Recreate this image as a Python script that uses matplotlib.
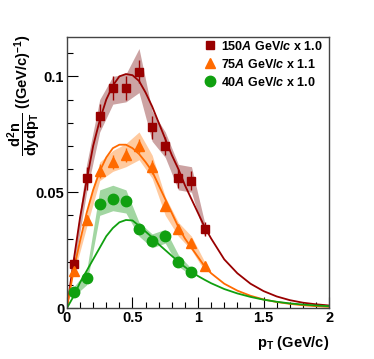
import numpy as np
import matplotlib
matplotlib.use("Agg")
import matplotlib.pyplot as plt
from matplotlib.ticker import MultipleLocator
from matplotlib.lines import Line2D

plt.rcParams['font.family'] = ['Liberation Sans', 'DejaVu Sans']
plt.rcParams['font.weight'] = 'bold'
plt.rcParams['mathtext.fontset'] = 'custom'
plt.rcParams['mathtext.rm'] = 'Liberation Sans:bold'
plt.rcParams['mathtext.it'] = 'Liberation Sans:bold:italic'
plt.rcParams['mathtext.bf'] = 'Liberation Sans:bold'

# measured points (pT bin centres)
pt = [0.05, 0.15, 0.25, 0.35, 0.45, 0.55, 0.65, 0.75, 0.85, 0.95, 1.05]

y150 = [0.019, 0.056, 0.083, 0.095, 0.095, 0.102, 0.078, 0.070, 0.056, 0.055, 0.034]
lo150 = [0.016, 0.050, 0.076, 0.088, 0.089, 0.093, 0.072, 0.065, 0.051, 0.050, 0.031]
hi150 = [0.022, 0.062, 0.090, 0.100, 0.101, 0.112, 0.085, 0.076, 0.062, 0.061, 0.037]
e150 = [0.003, 0.005, 0.005, 0.005, 0.005, 0.005, 0.005, 0.004, 0.004, 0.004, 0.003]

y75 = [0.016, 0.038, 0.059, 0.063, 0.066, 0.070, 0.061, 0.044, 0.034, 0.028, 0.018]
lo75 = [0.014, 0.035, 0.055, 0.059, 0.061, 0.064, 0.056, 0.040, 0.031, 0.025, 0.016]
hi75 = [0.018, 0.041, 0.063, 0.068, 0.071, 0.076, 0.066, 0.048, 0.037, 0.031, 0.020]
e75 = [0.002, 0.002, 0.003, 0.003, 0.003, 0.003, 0.003, 0.002, 0.002, 0.002, 0.002]

pt40 = [0.05, 0.15, 0.25, 0.35, 0.45, 0.55, 0.65, 0.75, 0.85, 0.95]
y40 = [0.007, 0.013, 0.045, 0.047, 0.046, 0.034, 0.029, 0.031, 0.020, 0.0155]
lo40 = [0.005, 0.010, 0.040, 0.042, 0.041, 0.031, 0.026, 0.028, 0.018, 0.014]
hi40 = [0.009, 0.016, 0.051, 0.053, 0.051, 0.037, 0.032, 0.034, 0.023, 0.017]
e40 = [0.002, 0.002, 0.002, 0.002, 0.002, 0.002, 0.002, 0.002, 0.002, 0.002]

# fit curves
fx = [0, 0.05, 0.1, 0.15, 0.2, 0.25, 0.3, 0.35, 0.4, 0.45, 0.5, 0.55, 0.6, 0.65,
      0.7, 0.75, 0.8, 0.85, 0.9, 0.95, 1.0, 1.05, 1.1, 1.2, 1.3, 1.4, 1.5, 1.6,
      1.7, 1.8, 1.9, 2.0]
f150 = [0, 0.020, 0.039, 0.055, 0.070, 0.081, 0.090, 0.096, 0.100, 0.101, 0.1005,
        0.098, 0.093, 0.087, 0.080, 0.073, 0.066, 0.060, 0.053, 0.047, 0.041, 0.035,
        0.030, 0.021, 0.015, 0.0105, 0.0073, 0.005, 0.0034, 0.0023, 0.0016, 0.0011]
f75 = [0, 0.016, 0.029, 0.041, 0.051, 0.059, 0.065, 0.069, 0.0705, 0.0705, 0.069,
       0.0665, 0.063, 0.059, 0.053, 0.047, 0.041, 0.035, 0.030, 0.026, 0.022, 0.018,
       0.015, 0.0105, 0.0075, 0.0053, 0.0037, 0.0026, 0.0018, 0.0012, 0.0008, 0.0005]
f40 = [0, 0.005, 0.011, 0.016, 0.021, 0.026, 0.031, 0.0345, 0.037, 0.038, 0.0378,
       0.0355, 0.033, 0.0305, 0.0275, 0.025, 0.0225, 0.020, 0.0177, 0.0157, 0.0138,
       0.0122, 0.0107, 0.0082, 0.0063, 0.0048, 0.0036, 0.0027, 0.002, 0.0015,
       0.0011, 0.0008]

labels = [r"150$\it{A}$ GeV/$\it{c}$ x 1.0",
          r"75$\it{A}$ GeV/$\it{c}$ x 1.1",
          r"40$\it{A}$ GeV/$\it{c}$ x 1.0"]

c_red, c_org, c_grn = '#990000', '#ff6a00', '#10a010'

fig = plt.figure(figsize=(3.74, 3.59), dpi=100)
ax = fig.add_axes([0.179, 0.142, 0.701, 0.755])

# systematic bands
ax.fill_between(pt, lo150, hi150, color='#aa6666', alpha=0.6, lw=0)
ax.fill_between(pt, lo75, hi75, color='#ffa860', alpha=0.6, lw=0)
ax.fill_between(pt40, lo40, hi40, color='#70c070', alpha=0.65, lw=0)

# fits
ax.plot(fx, f150, color=c_red, lw=1.3)
ax.plot(fx, f75, color=c_org, lw=1.3)
ax.plot(fx, f40, color=c_grn, lw=1.3)

# data
ax.errorbar(pt, y150, yerr=e150, fmt='s', color=c_red, ms=6, lw=1, capsize=0)
ax.errorbar(pt, y75, yerr=e75, fmt='^', color=c_org, ms=7, lw=1, capsize=0)
ax.errorbar(pt40, y40, yerr=e40, fmt='o', color=c_grn, ms=7.5, lw=1, capsize=0)

ax.set_xlim(0, 2)
ax.set_ylim(0, 0.117)
ax.xaxis.set_minor_locator(MultipleLocator(0.1))
ax.yaxis.set_minor_locator(MultipleLocator(0.01))
ax.set_xticks([0, 0.5, 1, 1.5, 2])
ax.set_xticklabels(['0', '0.5', '1', '1.5', '2'])
ax.set_yticks([0, 0.05, 0.1])
ax.set_yticklabels(['0', '0.05', '0.1'])
ax.tick_params(which='both', direction='in', top=False, right=False, labelsize=10.5, width=0.8)
ax.tick_params(which='major', length=8, pad=2)
ax.tick_params(which='minor', length=4)
for s in ax.spines.values():
    s.set_linewidth(1.0)
    s.set_color('#444444')
for lab in ax.get_xticklabels() + ax.get_yticklabels():
    lab.set_fontweight('bold')

handles = [Line2D([], [], ls='none', marker='s', color=c_red, ms=6),
           Line2D([], [], ls='none', marker='^', color=c_org, ms=7),
           Line2D([], [], ls='none', marker='o', color=c_grn, ms=7.5)]
leg = ax.legend(handles, labels, loc='upper right', bbox_to_anchor=(1.01, 1.022), frameon=False,
                fontsize=9, handletextpad=0.3, handlelength=1.2, labelspacing=0.4, borderaxespad=0.3)

fig.text(0.88, 0.02, r"p$_{\mathrm{T}}$ (GeV/c)", ha='right', va='bottom', fontsize=10.5, fontweight='bold')
fig.text(0.065, 0.735, r"$\dfrac{\mathrm{d^2n}}{\mathrm{dydp_T}}$ ((GeV/c)$^{-1}$)", rotation=90,
         ha='center', va='center', fontsize=10.5, fontweight='bold')

fig.savefig('out.png', dpi=100)
